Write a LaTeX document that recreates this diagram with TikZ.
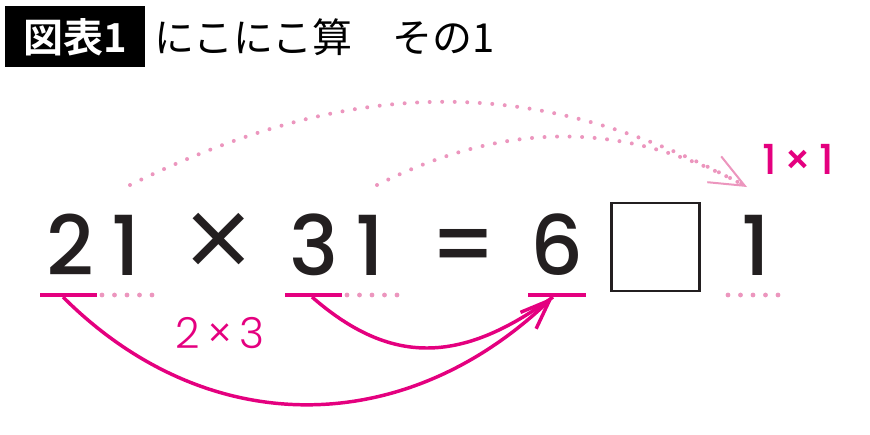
\documentclass[tikz,border=0pt]{standalone}
\usepackage{fontspec}
\usepackage{tikz}
\usetikzlibrary{arrows.meta}
\setmainfont{Poppins}
\newfontfamily\digitfont{Poppins}[UprightFont={* Medium}]
\newfontfamily\thinfont{Poppins}[UprightFont={* Light}]
\newfontfamily\jpfont{Noto Sans CJK JP}[BoldFont={Noto Sans CJK JP Bold}]
\definecolor{hotpink}{RGB}{228,0,127}
\definecolor{softpink}{RGB}{236,150,190}
\definecolor{ink}{RGB}{35,31,32}

\begin{document}
\begin{tikzpicture}[x=0.75pt,y=0.75pt,yscale=-1,xscale=1,
  digit/.style={anchor=base,inner sep=0.75pt,text=ink,font=\digitfont\fontsize{62}{62}\selectfont},
  uline/.style={draw=hotpink,line width=3.7pt},
  udots/.style={draw=softpink,line width=3.6pt,line cap=round,dash pattern=on 0pt off 9.375pt},
  bowarc/.style={draw=hotpink,line width=2.6pt},
  dotarc/.style={draw=softpink,line width=3pt,line cap=round,dash pattern=on 0pt off 9.4pt},
]
\useasboundingbox (0,0) rectangle (870,435);

% Title
\draw (5,6) node [anchor=north west,inner sep=0pt,fill=black,minimum width=105pt,minimum height=45.75pt,text=white,font=\jpfont\bfseries\fontsize{30}{30}\selectfont] (tag) {図表1};
\draw (154,37) node [anchor=west,inner sep=0pt,font=\jpfont\fontsize{30}{30}\selectfont] (title) {にこにこ算　その1};

% Text Node
\draw (70,275) node [digit] (d2) {2};
\draw (126,275) node [digit] (d1a) {1};
\draw (219,284) node [digit,font=\thinfont\fontsize{92}{92}\selectfont] (times) {×};
\draw (314,275) node [digit] (d3) {3};
\draw (370,275) node [digit] (d1b) {1};
\draw (464,275) node [digit,font=\digitfont\fontsize{66}{66}\selectfont] (eq) {=};
\draw (557,275) node [digit] (d6) {6};
\draw (756,275) node [digit] (d1c) {1};
%Shape: Square
\draw (655.5,247) node [draw=ink,line width=2pt,minimum size=66pt,inner sep=0pt] (blank) {};

% Text Node
\draw (220,348) node [anchor=base,inner sep=0.75pt,text=hotpink,font=\thinfont\fontsize{32}{32}\selectfont] (lab23) {2\,×\,3};
\draw (798,174) node [anchor=base,inner sep=0.75pt,text=hotpink,font=\digitfont\fontsize{31}{31}\selectfont] (lab11) {1\,×\,1};

%Straight Lines
\draw [uline] (40,295) -- (97,295) ;
\draw [uline] (285,295) -- (342,295) ;
\draw [uline] (528,295) -- (586,295) ;
\draw [udots] (102,295) -- (152,295) ;
\draw [udots] (347,295) -- (397,295) ;
\draw [udots] (728,295) -- (778,295) ;

\coordinate (from2) at (63,297);
\coordinate (from3) at (312,297);
\coordinate (to6) at (553,297);
\coordinate (from21) at (130,185);
\coordinate (from31) at (377,185);
\coordinate (to1) at (747,187);

%Curve Lines
\draw [bowarc,-{Straight Barb[length=22pt,width=17pt]}] (from2) .. controls (206,440) and (403,440) .. (to6) ;
\draw [bowarc] (from3) .. controls (390,365) and (460,365) .. (to6) ;
\draw [dotarc,-{Straight Barb[length=26pt,width=22pt,line width=1.5pt]}] (from21) .. controls (357,74) and (538,74) .. (to1) ;
\draw [dotarc] (from31) .. controls (507,120) and (625,120) .. (to1) ;

\end{tikzpicture}
\end{document}
